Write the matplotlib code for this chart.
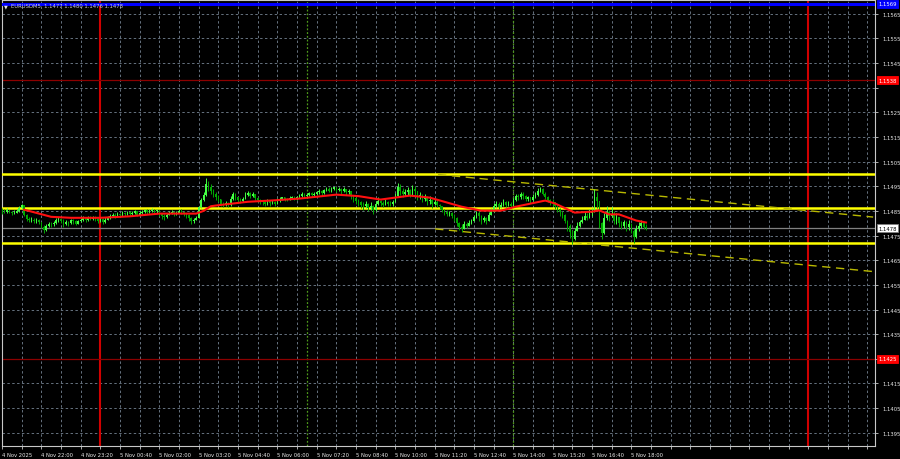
import numpy as np
import matplotlib
matplotlib.use("Agg")
import matplotlib.pyplot as plt
from matplotlib.transforms import blended_transform_factory

# ---------------- data (prices in points above 1.14000) ----------------
BASE = 1.14
first_open = 855
closes = [
    850, 845, 852, 846, 840, 843, 848, 862, 872, 835, 818, 812, 815, 808, 812, 806,
    785, 772, 790, 798, 795, 802, 812, 818, 810, 795, 805, 800, 812, 808, 798, 810,
    815, 820, 812, 822, 818, 825, 816, 810, 818, 805, 815, 822, 828, 835, 830, 838,
    832, 840, 836, 845, 838, 842, 848, 835, 840, 846, 852, 845, 850, 855, 848, 852,
    838, 830, 825, 835, 840, 845, 838, 842, 850, 846, 840, 832, 820, 808, 815, 822,
    865, 895, 915, 960, 945, 930, 918, 905, 898, 880, 875, 882, 872, 900, 918, 905,
    895, 890, 900, 915, 922, 910, 918, 902, 895, 890, 885, 878, 892, 882, 888, 880,
    892, 898, 905, 900, 895, 902, 908, 900, 905, 912, 918, 910, 915, 922, 915, 918,
    925, 930, 922, 935, 940, 932, 938, 945, 935, 940, 930, 938, 925, 932, 910, 902,
    890, 885, 875, 868, 880, 862, 870, 852, 878, 890, 882, 875, 888, 880, 878, 885,
    910, 945, 930, 918, 925, 935, 915, 940, 930, 908, 915, 900, 905, 890, 895, 880,
    888, 875, 870, 855, 845, 838, 842, 830, 820, 800, 785, 775, 795, 790, 802, 808,
    825, 842, 830, 812, 820, 808, 835, 845, 870, 878, 865, 872, 885, 875, 880, 870,
    895, 910, 905, 918, 912, 900, 905, 895, 908, 915, 930, 940, 920, 905, 895, 888,
    885, 870, 858, 845, 832, 810, 790, 765, 735, 770, 790, 805, 815, 830, 822, 840,
    850, 905, 890, 800, 760, 820, 845, 830, 838, 810, 825, 800, 790, 805, 785, 798,
    770, 745, 775, 790, 800, 785, 780,
]
highs = [
    862, 856, 860, 855, 850, 852, 856, 868, 880, 872, 838, 826, 824, 820, 822, 818,
    805, 792, 796, 806, 804, 808, 820, 826, 822, 818, 812, 810, 818, 816, 812, 815,
    822, 828, 826, 830, 828, 830, 828, 822, 825, 820, 824, 830, 836, 842, 840, 846,
    842, 848, 846, 851, 848, 850, 852, 850, 848, 852, 858, 856, 856, 860, 858, 858,
    848, 842, 836, 842, 848, 852, 848, 850, 858, 856, 850, 842, 836, 824, 822, 830,
    870, 902, 925, 985, 972, 958, 940, 925, 915, 900, 888, 890, 885, 910, 928, 922,
    905, 902, 908, 925, 932, 928, 926, 918, 905, 900, 895, 890, 898, 895, 895, 890,
    902, 906, 908, 908, 904, 910, 912, 910, 910, 920, 925, 922, 924, 928, 926, 926,
    932, 940, 935, 940, 946, 945, 945, 948, 946, 948, 942, 945, 940, 940, 932, 915,
    905, 900, 892, 885, 890, 882, 885, 875, 890, 908, 895, 890, 898, 892, 890, 895,
    922, 965, 960, 942, 938, 945, 938, 955, 950, 930, 925, 920, 918, 910, 912, 900,
    900, 895, 880, 868, 858, 852, 850, 845, 838, 825, 805, 795, 808, 806, 812, 818,
    835, 851, 848, 835, 830, 825, 845, 862, 882, 892, 885, 885, 898, 892, 890, 885,
    902, 918, 920, 928, 925, 915, 912, 908, 918, 925, 942, 948, 944, 925, 912, 900,
    900, 888, 878, 862, 850, 838, 815, 795, 772, 780, 805, 815, 830, 845, 840, 858,
    862, 940, 925, 885, 805, 840, 868, 855, 865, 850, 842, 825, 808, 815, 808, 812,
    800, 778, 792, 805, 812, 805, 795,
]
lows = [
    838, 840, 842, 840, 832, 836, 840, 845, 858, 830, 810, 804, 806, 800, 802, 798,
    780, 762, 768, 785, 784, 790, 798, 806, 800, 786, 792, 790, 798, 796, 792, 796,
    806, 810, 806, 810, 812, 814, 808, 800, 804, 798, 802, 812, 818, 825, 822, 826,
    826, 830, 828, 834, 830, 834, 838, 828, 832, 836, 842, 838, 840, 846, 840, 842,
    830, 818, 812, 822, 832, 836, 830, 834, 840, 838, 830, 822, 810, 798, 802, 812,
    848, 860, 890, 910, 932, 920, 905, 895, 885, 870, 866, 868, 866, 870, 895, 896,
    885, 882, 888, 898, 910, 904, 906, 895, 885, 880, 872, 868, 875, 870, 876, 870,
    885, 888, 895, 890, 890, 893, 898, 893, 896, 902, 908, 902, 906, 912, 906, 908,
    915, 920, 912, 920, 930, 925, 928, 935, 925, 930, 920, 925, 915, 920, 900, 888,
    878, 870, 860, 855, 862, 850, 855, 838, 850, 872, 870, 866, 872, 868, 868, 870,
    885, 905, 915, 905, 910, 915, 905, 910, 915, 895, 900, 888, 890, 875, 878, 862,
    872, 865, 858, 845, 835, 830, 830, 822, 810, 790, 772, 766, 775, 782, 790, 798,
    808, 822, 810, 798, 805, 798, 815, 835, 845, 862, 858, 860, 868, 865, 868, 860,
    880, 892, 895, 900, 898, 890, 892, 882, 890, 902, 912, 925, 915, 898, 885, 875,
    870, 858, 845, 830, 820, 800, 768, 740, 717, 730, 768, 785, 800, 812, 812, 820,
    830, 845, 860, 780, 735, 755, 815, 810, 825, 798, 795, 785, 775, 780, 770, 772,
    762, 720, 740, 768, 782, 775, 772,
]
# red moving average (bar index, points)
ma_bars = [9, 14, 20, 28, 40, 52, 64, 79, 82, 85, 88, 100, 111, 121, 136, 145, 154,
           160, 166, 174, 180, 187, 195, 203, 209, 221, 225, 233, 240, 243, 247, 251, 258, 262]
ma_vals = [855, 842, 826, 822, 822, 828, 839, 839, 850, 869, 873, 887, 893, 900, 916, 910, 896,
           904, 912, 904, 887, 867, 851, 851, 867, 892, 880, 843, 847, 852, 836, 836, 811, 803]

# levels
yellow_levels = [1.1500, 1.1486, 1.1472]
blue_level = 1.1569
red_levels = [1.1538, 1.1425]
last_price = 1.1478
# channel lines: (minutes from 4 Nov 20:40, price)
channel_upper = [(887, 1.14998), (1772, 1.14825)]
channel_lower = [(881, 1.14777), (1772, 1.14604)]
# vertical markers (minutes from 4 Nov 20:40)
red_days = [200, 1640]
green_sessions = [620, 1040]

x_labels = ["4 Nov 2025", "4 Nov 22:00", "4 Nov 23:20", "5 Nov 00:40", "5 Nov 02:00",
            "5 Nov 03:20", "5 Nov 04:40", "5 Nov 06:00", "5 Nov 07:20", "5 Nov 08:40",
            "5 Nov 10:00", "5 Nov 11:20", "5 Nov 12:40", "5 Nov 14:00", "5 Nov 15:20",
            "5 Nov 16:40", "5 Nov 18:00"]
y_ticks = [1.1565, 1.1555, 1.1545, 1.1535, 1.1525, 1.1515, 1.1505, 1.1495, 1.1485, 1.1475,
           1.1465, 1.1455, 1.1445, 1.1435, 1.1425, 1.1415, 1.1405, 1.1395]
title = "EURUSDM5  1.1477 1.1480 1.1476 1.1478"

# ---------------- drawing ----------------
BAR_MIN = 5
c = BASE + np.array(closes) / 1e5
h = BASE + np.array(highs) / 1e5
l = BASE + np.array(lows) / 1e5
o = np.concatenate([[BASE + first_open / 1e5], c[:-1]])
h = np.maximum(h, np.maximum(o, c))
l = np.minimum(l, np.minimum(o, c))
t = np.arange(len(c)) * BAR_MIN

W, H = 900, 460
fig = plt.figure(figsize=(9, 4.6), dpi=100, facecolor="black")
ax = fig.add_axes([1.7 / W, 13.3 / H, 873.3 / W, 446 / H], facecolor="black")
ax.set_xlim(-0.5, 1775.8)
ax.set_ylim(1.138975, 1.157068)

grid_col = "#66727f"
for yv in y_ticks:
    ax.axhline(yv, color=grid_col, lw=0.7, ls=(0, (2.5, 2.5)), zorder=1)
for xm in range(40, 1776, 40):
    ax.axvline(xm, color=grid_col, lw=0.7, ls=(0, (2.5, 2.5)), zorder=1)

for xm in red_days:
    ax.axvline(xm, color="#d00000", lw=1.5, zorder=2)
for xm in green_sessions:
    ax.axvline(xm, color="#4f9a1a", lw=0.9, ls=(0, (1.5, 1.5)), zorder=2)

ax.axhline(blue_level, color="#0000ff", lw=2.2, zorder=3)
for rv in red_levels:
    ax.axhline(rv, color="#8c0000", lw=0.9, zorder=2)
ax.axhline(last_price, color="#808080", lw=0.9, zorder=2)

for yv in yellow_levels:
    ax.axhline(yv, color="#ffff00", lw=1.8, zorder=4)

for line in (channel_upper, channel_lower):
    xs, ys = zip(*line)
    ax.plot(xs, ys, color="#b8b800", lw=1.0, ls=(0, (6, 4)), zorder=4)

up = c >= o
col = np.where(up, "#44ff44", "#00a800")
ax.vlines(t, l, h, colors=col, lw=0.7, zorder=5)
ax.bar(t, np.maximum(np.abs(c - o), 0.000015), bottom=np.minimum(o, c), width=3.0,
       color=col, linewidth=0, zorder=5)

ax.plot(np.array(ma_bars) * BAR_MIN, BASE + np.array(ma_vals) / 1e5, color="#ff1010", lw=1.5,
        zorder=6)

# axes styling
for s in ax.spines.values():
    s.set_color("#c8c8c8")
    s.set_linewidth(0.8)
ax.yaxis.tick_right()
fs = 3.8
hidden = {1.1535, 1.1425}
ax.set_yticks(y_ticks)
ax.set_yticklabels(["" if round(v, 4) in hidden else f"{v:.4f}" for v in y_ticks])
ax.tick_params(axis="y", colors="#c8c8c8", labelcolor="#e8e8e8", labelsize=fs, length=2.5,
               width=0.6, pad=2.5, direction="out")
xt = np.arange(0, 1776, 40)
ax.set_xticks(xt)
lab = [x_labels[i // 2] if i % 2 == 0 and i // 2 < len(x_labels) else "" for i in range(len(xt))]
ax.set_xticklabels(lab)
for tl in ax.get_xticklabels():
    tl.set_horizontalalignment("left")
ax.tick_params(axis="x", colors="#c8c8c8", labelcolor="#e8e8e8", labelsize=fs, length=2.5,
               width=0.6, pad=2.0, direction="out")

tr = blended_transform_factory(ax.transAxes, ax.transData)
dx = 1.0 + 3.5 / 873.3
def tag(val, fc, ec, tc):
    ax.text(dx, val, f"{val:.4f}", transform=tr, ha="left", va="center", fontsize=fs,
            color=tc, clip_on=False, zorder=10,
            bbox=dict(boxstyle="square,pad=0.25", fc=fc, ec=ec, lw=0.6))
tag(blue_level, "#0000ff", "#0000ff", "white")
for rv in red_levels:
    tag(rv, "#ff0000", "#ff0000", "white")
tag(last_price, "white", "#808080", "black")

fig.text(4 / W, 1 - 6.5 / H, "\u25bc", fontsize=3.5, color="#e0e0e0", va="center", ha="left")
fig.text(11 / W, 1 - 6.5 / H, title, fontsize=fs, color="#d0d0d0", va="center", ha="left")

fig.savefig("out.png", dpi=100, facecolor="black")
